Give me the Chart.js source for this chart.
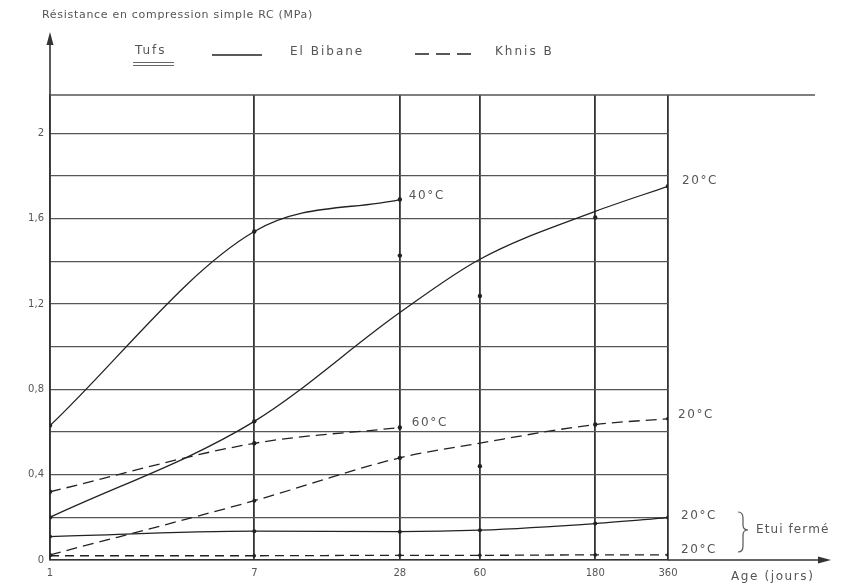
<!DOCTYPE html>
<html>
<head>
<meta charset="utf-8">
<script src="https://cdn.jsdelivr.net/npm/chart.js@4.4.1/dist/chart.umd.min.js"></script>
<style>
  html,body{margin:0;padding:0;background:#fff;}
  canvas{display:block;}
</style>
</head>
<body>
<canvas id="c" width="851" height="586"></canvas>
<script>
// ---- data ----
const ages = [1, 7, 28, 60, 180, 360];          // Age (jours)
const ages40 = [1, 7, 28];
const yGridValues = [0, 0.2, 0.4, 0.6, 0.8, 1.0, 1.2, 1.4, 1.6, 1.8, 2.0];
const yTickValues = [0, 0.4, 0.8, 1.2, 1.6, 2];

// El Bibane (solid)
const bibane40 = [0.63, 1.54, 1.69];                       // 40°C
const bibane20 = [0.20, 0.65, 1.16, 1.41, 1.634, 1.752];   // 20°C
const bibaneEtui = [0.11, 0.135, 0.133, 0.14, 0.171, 0.199]; // 20°C étui fermé
// Khnis B (dashed)
const khnis60 = [0.32, 0.547, 0.621];                      // 60°C
const khnis20 = [0.024, 0.278, 0.479, 0.548, 0.635, 0.662]; // 20°C
const khnisEtui = [0.02, 0.02, 0.022, 0.022, 0.024, 0.024]; // 20°C étui fermé
// isolated measured points
const isoAges = [28, 60, 180, 60];
const isoVals = [1.427, 1.238, 1.606, 0.44];

const pts = (xs, ys) => xs.map((x, i) => ({x: x, y: ys[i]}));

const INK = '#222';
const TXT = '#555';
const FONT = '"DejaVu Sans", sans-serif';

function lineDs(data, opts) {
  return Object.assign({
    data: data,
    borderColor: INK,
    borderWidth: 1.3,
    pointRadius: 2.2,
    pointBackgroundColor: INK,
    pointBorderColor: INK,
    pointBorderWidth: 0,
    cubicInterpolationMode: 'monotone',
    fill: false
  }, opts || {});
}

const annot = {
  id: 'annot',
  afterDraw(chart) {
    const {ctx, scales: {x, y}, chartArea: a} = chart;
    ctx.save();
    ctx.strokeStyle = '#333';
    ctx.fillStyle = '#333';
    // y axis extension + arrow
    ctx.lineWidth = 1.6;
    ctx.beginPath();
    ctx.moveTo(a.left, a.top);
    ctx.lineTo(a.left, 40);
    ctx.stroke();
    ctx.beginPath();
    ctx.moveTo(a.left, 32);
    ctx.lineTo(a.left - 3.5, 45);
    ctx.lineTo(a.left + 3.5, 45);
    ctx.closePath();
    ctx.fill();
    // x axis extension + arrow
    ctx.beginPath();
    ctx.moveTo(a.right, a.bottom);
    ctx.lineTo(822, a.bottom);
    ctx.stroke();
    ctx.beginPath();
    ctx.moveTo(831, a.bottom);
    ctx.lineTo(818, a.bottom - 3.5);
    ctx.lineTo(818, a.bottom + 3.5);
    ctx.closePath();
    ctx.fill();
    // top frame line
    ctx.strokeStyle = '#555';
    ctx.lineWidth = 1.4;
    ctx.beginPath();
    ctx.moveTo(a.left, a.top);
    ctx.lineTo(815, a.top);
    ctx.stroke();

    // texts
    ctx.fillStyle = TXT;
    ctx.textBaseline = 'middle';
    ctx.textAlign = 'left';
    ctx.font = '11px ' + FONT;
    try { ctx.letterSpacing = '0.7px'; } catch (e) {}
    ctx.fillText('Résistance en compression simple RC (MPa)', 42, 15);

    ctx.font = '12px ' + FONT;
    try { ctx.letterSpacing = '2px'; } catch (e) {}
    // legend
    ctx.fillText('Tufs', 135, 51);
    ctx.strokeStyle = '#666';
    ctx.lineWidth = 1;
    ctx.beginPath();
    ctx.moveTo(133, 62.5); ctx.lineTo(174, 62.5);
    ctx.moveTo(133, 65.5); ctx.lineTo(174, 65.5);
    ctx.stroke();
    ctx.strokeStyle = INK;
    ctx.lineWidth = 1.3;
    ctx.beginPath();
    ctx.moveTo(212, 55); ctx.lineTo(262, 55);
    ctx.stroke();
    ctx.fillText('El Bibane', 290, 52);
    ctx.setLineDash([14, 7]);
    ctx.beginPath();
    ctx.moveTo(415, 54); ctx.lineTo(471, 54);
    ctx.stroke();
    ctx.setLineDash([]);
    ctx.fillText('Khnis B', 495, 52);

    // curve labels
    try { ctx.letterSpacing = '1.6px'; } catch (e) {}
    const px = v => x.getPixelForValue(v);
    const py = v => y.getPixelForValue(v);
    ctx.fillText('40°C', px(28) + 9, py(bibane40[2]) - 4);
    ctx.fillText('20°C', px(360) + 14, py(bibane20[5]) - 5);
    ctx.fillText('60°C', px(28) + 12, py(khnis60[2]) - 5);
    ctx.fillText('20°C', px(360) + 10, py(khnis20[5]) - 4);
    ctx.fillText('20°C', px(360) + 13, py(bibaneEtui[5]) - 2);
    ctx.fillText('20°C', px(360) + 13, py(khnisEtui[5]) - 5);
    ctx.fillText('Age (jours)', 731, 577);
    try { ctx.letterSpacing = '1.1px'; } catch (e) {}
    ctx.fillText('Etui fermé', 756, 530);

    // brace
    ctx.strokeStyle = '#555';
    ctx.lineWidth = 1.2;
    ctx.beginPath();
    ctx.moveTo(738, 512);
    ctx.quadraticCurveTo(743, 512, 743, 518);
    ctx.lineTo(743, 525);
    ctx.quadraticCurveTo(743, 530, 748, 530);
    ctx.quadraticCurveTo(743, 530, 743, 535);
    ctx.lineTo(743, 546);
    ctx.quadraticCurveTo(743, 552, 738, 552);
    ctx.stroke();
    ctx.restore();
  }
};

new Chart(document.getElementById('c'), {
  type: 'line',
  data: {
    datasets: [
      lineDs(pts(ages40, bibane40)),
      lineDs(pts(ages, bibane20), {pointRadius: [2.2, 2.2, 0, 0, 0, 2.2]}),
      lineDs(pts(ages, bibaneEtui), {pointRadius: 2}),
      lineDs(pts(ages40, khnis60), {borderDash: [11, 6]}),
      lineDs(pts(ages, khnis20), {borderDash: [11, 6], pointRadius: [2, 2, 2.2, 0, 2.2, 2]}),
      lineDs(pts(ages, khnisEtui), {borderDash: [9, 6], pointRadius: 1.8}),
      lineDs(pts(isoAges, isoVals), {showLine: false, pointRadius: 2.2})
    ]
  },
  options: {
    responsive: false,
    devicePixelRatio: 1,
    animation: false,
    layout: {padding: {top: 95, right: 183, bottom: 0, left: 0}},
    plugins: {legend: {display: false}, tooltip: {enabled: false}, title: {display: false}},
    scales: {
      x: {
        type: 'logarithmic',
        min: 1,
        max: 360,
        afterBuildTicks: s => { s.ticks = ages.map(v => ({value: v})); },
        afterFit: s => { s.height = 26; },
        ticks: {
          autoSkip: false,
          maxRotation: 0,
          padding: 7,
          color: TXT,
          font: {family: FONT, size: 10},
          callback: v => String(v)
        },
        grid: {color: '#333', lineWidth: 1.8, drawTicks: false},
        border: {display: true, color: '#333', width: 1.6}
      },
      y: {
        type: 'linear',
        min: 0,
        max: 2.18,
        afterFit: s => { s.width = 50; },
        afterBuildTicks: s => { s.ticks = yGridValues.map(v => ({value: v})); },
        ticks: {
          padding: 6,
          color: TXT,
          font: {family: FONT, size: 10},
          callback: v => {
            const match = yTickValues.find(t => Math.abs(t - v) < 1e-6);
            if (match === undefined) return '';
            return String(match).replace('.', ',');
          }
        },
        grid: {color: '#555', lineWidth: 1.3, drawTicks: false},
        border: {display: true, color: '#333', width: 1.6}
      }
    }
  },
  plugins: [annot]
});
</script>
</body>
</html>
